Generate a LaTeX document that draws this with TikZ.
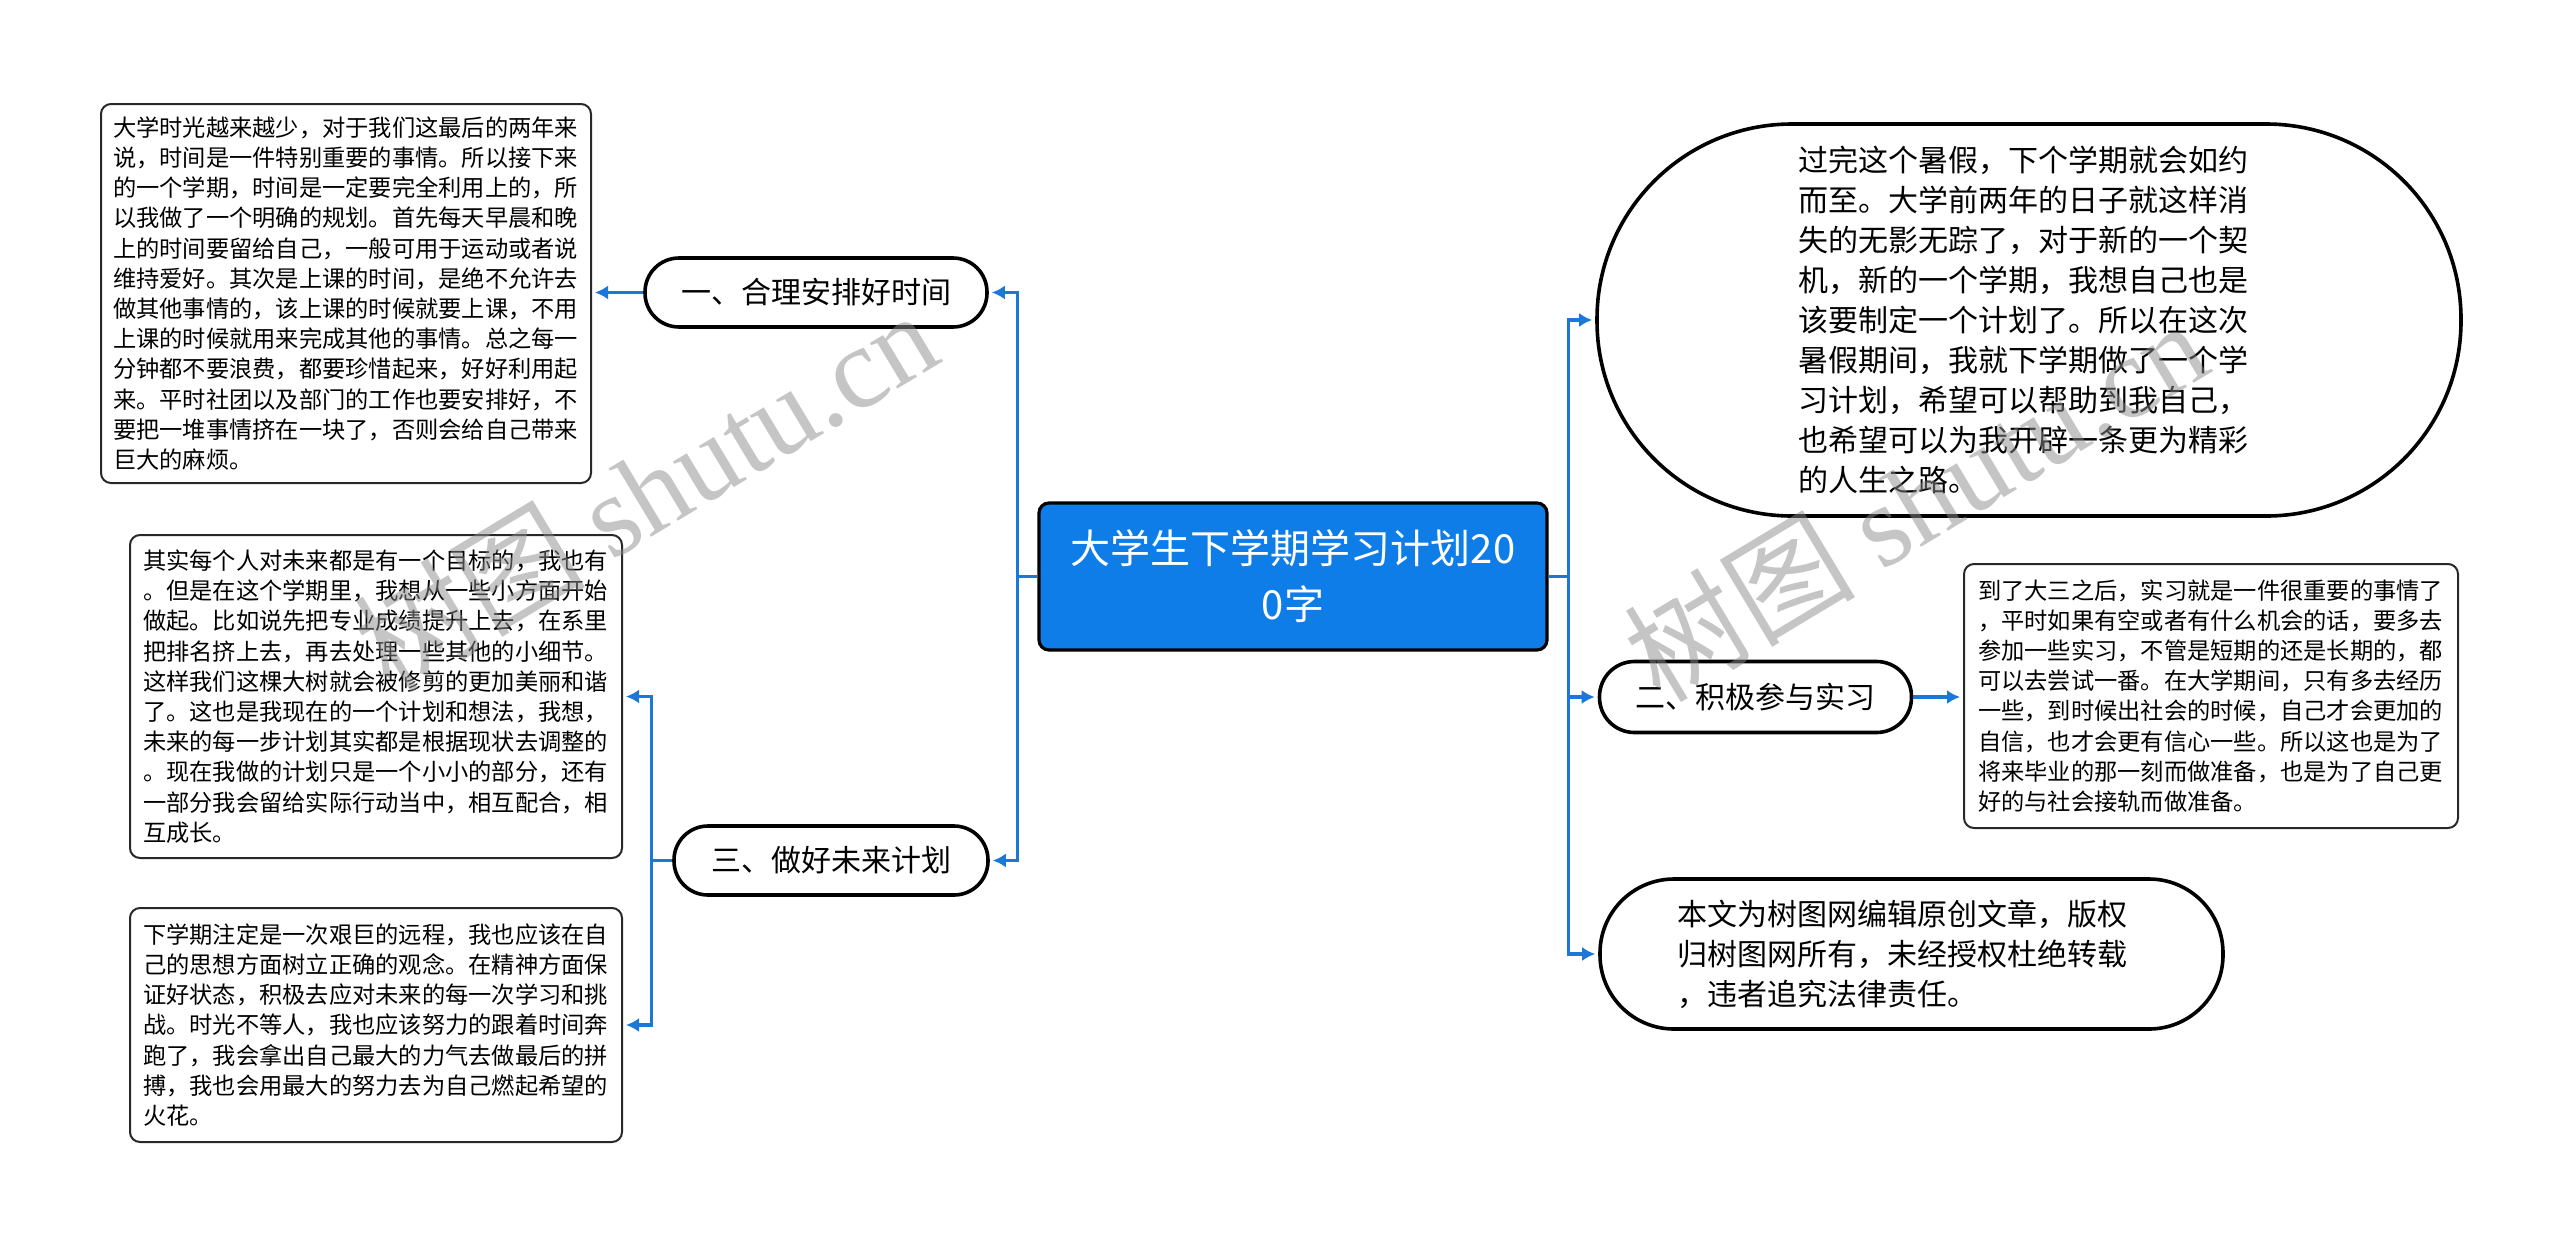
\documentclass[tikz,border=0pt]{standalone}
\usepackage{fontspec}
\newfontfamily\cjk{Noto Sans CJK SC}
\newfontfamily\wmserif{Liberation Serif}
\usetikzlibrary{arrows.meta}
\definecolor{linkblue}{RGB}{28,120,214}
\definecolor{mainblue}{RGB}{14,125,232}
\definecolor{boxline}{RGB}{40,40,40}
\begin{document}
\begin{tikzpicture}[x=0.5pt,y=-0.5pt,
  txtbox/.style={draw=boxline, line width=1pt, rounded corners=5pt, fill=white,
    font=\cjk\fontsize{11.625}{15.1}\selectfont, align=left, text width=233pt,
    inner xsep=6pt, inner ysep=0pt},
  pill/.style={draw=black, line width=1.8pt, fill=white, inner sep=0pt,
    font=\cjk\fontsize{15}{20}\selectfont},
  conn/.style={draw=linkblue, line width=1.7pt},
  arr/.style={conn, -{Latex[length=6.5pt,width=7pt]}, shorten >=1.5pt},
  wm/.style={text=black!45, text opacity=0.5, rotate=31, inner sep=0pt}
]
\useasboundingbox[fill=white] (0,0) rectangle (2560,1243);

% central
\node[draw=black, line width=1.6pt, fill=mainblue, rounded corners=5pt,
  minimum width=254pt, minimum height=73.5pt, text width=240pt, align=center,
  text=white, font=\cjk\fontsize{20}{28}\selectfont] (c) at (1293,576.5)
  {大学生下学期学习计划20\\0字};

% left branches
\node[pill, rounded corners=17pt, minimum width=171pt, minimum height=34.5pt] (b1) at (816,292.5) {一、合理安排好时间};
\node[pill, rounded corners=17pt, minimum width=157pt, minimum height=34.5pt] (b3) at (831,860.5) {三、做好未来计划};

\node[txtbox, minimum width=245pt, minimum height=189.5pt] (d1) at (346,293.5) {大学时光越来越少，对于我们这最后的两年来\\说，时间是一件特别重要的事情。所以接下来\\的一个学期，时间是一定要完全利用上的，所\\以我做了一个明确的规划。首先每天早晨和晚\\上的时间要留给自己，一般可用于运动或者说\\维持爱好。其次是上课的时间，是绝不允许去\\做其他事情的，该上课的时候就要上课，不用\\上课的时候就用来完成其他的事情。总之每一\\分钟都不要浪费，都要珍惜起来，好好利用起\\来。平时社团以及部门的工作也要安排好，不\\要把一堆事情挤在一块了，否则会给自己带来\\巨大的麻烦。};

\node[txtbox, minimum width=246pt, minimum height=161.5pt] (d2) at (376,696.5) {其实每个人对未来都是有一个目标的，我也有\\。但是在这个学期里，我想从一些小方面开始\\做起。比如说先把专业成绩提升上去，在系里\\把排名挤上去，再去处理一些其他的小细节。\\这样我们这棵大树就会被修剪的更加美丽和谐\\了。这也是我现在的一个计划和想法，我想，\\未来的每一步计划其实都是根据现状去调整的\\。现在我做的计划只是一个小小的部分，还有\\一部分我会留给实际行动当中，相互配合，相\\互成长。};

\node[txtbox, minimum width=246pt, minimum height=117pt] (d3) at (376,1025) {下学期注定是一次艰巨的远程，我也应该在自\\己的思想方面树立正确的观念。在精神方面保\\证好状态，积极去应对未来的每一次学习和挑\\战。时光不等人，我也应该努力的跟着时间奔\\跑了，我会拿出自己最大的力气去做最后的拼\\搏，我也会用最大的努力去为自己燃起希望的\\火花。};

% right branches
\node[pill, rounded corners=97.5pt, minimum width=432pt, minimum height=196pt,
  text width=231pt, align=left] (tr) at (2029,320) {过完这个暑假，下个学期就会如约\\而至。大学前两年的日子就这样消\\失的无影无踪了，对于新的一个契\\机，新的一个学期，我想自己也是\\该要制定一个计划了。所以在这次\\暑假期间，我就下学期做了一个学\\习计划，希望可以帮助到我自己，\\也希望可以为我开辟一条更为精彩\\的人生之路。};

\node[pill, rounded corners=17.5pt, minimum width=156pt, minimum height=35.5pt] (b2) at (1755.5,697) {二、积极参与实习};

\node[txtbox, minimum width=247pt, minimum height=132pt] (d4) at (2211,696) {到了大三之后，实习就是一件很重要的事情了\\，平时如果有空或者有什么机会的话，要多去\\参加一些实习，不管是短期的还是长期的，都\\可以去尝试一番。在大学期间，只有多去经历\\一些，到时候出社会的时候，自己才会更加的\\自信，也才会更有信心一些。所以这也是为了\\将来毕业的那一刻而做准备，也是为了自己更\\好的与社会接轨而做准备。};

\node[pill, rounded corners=37pt, minimum width=311.5pt, minimum height=75pt,
  text width=234.5pt, align=left] (cp) at (1911.5,954) {本文为树图网编辑原创文章，版权\\归树图网所有，未经授权杜绝转载\\，违者追究法律责任。};

% connectors left
\draw[conn] (c.west) -- ++(-20,0) coordinate (jl);
\draw[arr] (jl) |- (b1.east);
\draw[arr] (jl) |- (b3.east);
\draw[arr] (b1.west) -- (b1.west -| d1.east);
\draw[conn] (b3.west) -- ++(-21,0) coordinate (j3);
\draw[arr] (j3) |- (d2.east);
\draw[arr] (j3) |- (d3.east);

% connectors right
\draw[conn] (c.east) -- ++(20,0) coordinate (jr);
\draw[arr] (jr) |- (tr.west);
\draw[arr] (jr) |- (b2.west);
\draw[arr] (jr) |- (cp.west);
\draw[arr] (b2.east) -- (b2.east -| d4.west);

% watermarks
\node[wm] (w1) at (645,490) {\cjk\fontsize{58}{58}\selectfont 树图 \wmserif shutu.cn};
\node[wm] (w2) at (1915,500) {\cjk\fontsize{58}{58}\selectfont 树图 \wmserif shutu.cn};
\end{tikzpicture}
\end{document}
